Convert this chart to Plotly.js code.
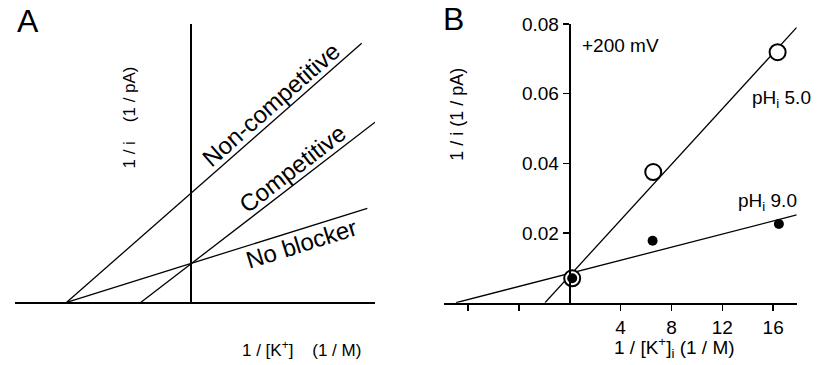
<!DOCTYPE html>
<html>
<head>
<meta charset="utf-8">
<script src="https://cdn.plot.ly/plotly-3.0.1.min.js"></script>
<style>html,body{margin:0;padding:0;background:#fff;}#chart{width:826px;height:365px;}</style>
</head>
<body>
<div id="chart"></div>
<script>
// Panel A: schematic Lineweaver-Burk lines (arbitrary units, no ticks)
var aNonCompX = [-12.4, 17.1];
var aNonCompY = [0, 25.9];
var aCompX = [-4.97, 18.43];
var aCompY = [0, 18.0];
var aNoBlockX = [-12.4, 17.66];
var aNoBlockY = [0, 9.4];

// Panel B: measured data, 1/[K+]i (1/M) vs 1/i (1/pA)
var bPh5X = [0.2, 6.57, 16.35];
var bPh5Y = [0.0070, 0.0375, 0.0719];
var bPh9X = [0.2, 6.52, 16.45];
var bPh9Y = [0.0070, 0.0178, 0.0226];
var bPh5FitX = [-1.94, 17.85];
var bPh5FitY = [0, 0.079];
var bPh9FitX = [-8.94, 17.85];
var bPh9FitY = [0, 0.0252];

var bXTickVals = [-8, -4, 4, 8, 12, 16];
var bXTickText = ['', '', '4', '8', '12', '16'];
var bYTickVals = [0.02, 0.04, 0.06, 0.08];
var bYTickText = ['0.02', '0.04', '0.06', '0.08'];

var W = 826, H = 365;
function px(x){ return x / W; }
function py(y){ return 1 - y / H; }
var FONT = 'Liberation Sans, Arial, sans-serif';
var lineStyle = {color: '#000', width: 1.3};
var NB = '\u00A0';

var traces = [
  {x: aNonCompX, y: aNonCompY, mode: 'lines', line: lineStyle, xaxis: 'x', yaxis: 'y', hoverinfo: 'skip'},
  {x: aCompX, y: aCompY, mode: 'lines', line: lineStyle, xaxis: 'x', yaxis: 'y', hoverinfo: 'skip'},
  {x: aNoBlockX, y: aNoBlockY, mode: 'lines', line: lineStyle, xaxis: 'x', yaxis: 'y', hoverinfo: 'skip'},
  {x: bPh5FitX, y: bPh5FitY, mode: 'lines', line: lineStyle, xaxis: 'x2', yaxis: 'y2', hoverinfo: 'skip'},
  {x: bPh9FitX, y: bPh9FitY, mode: 'lines', line: lineStyle, xaxis: 'x2', yaxis: 'y2', hoverinfo: 'skip'},
  {x: bPh5X, y: bPh5Y, mode: 'markers', xaxis: 'x2', yaxis: 'y2', cliponaxis: false,
   marker: {symbol: 'circle', size: 16, color: '#fff', line: {color: '#000', width: 2}}},
  {x: bPh9X, y: bPh9Y, mode: 'markers', xaxis: 'x2', yaxis: 'y2', cliponaxis: false,
   marker: {symbol: 'circle', size: 10, color: '#000', line: {width: 0}}}
];

function ann(text, x, y, size, angle){
  return {text: text, xref: 'paper', yref: 'paper', x: px(x), y: py(y),
    xanchor: 'center', yanchor: 'middle', showarrow: false, textangle: angle || 0,
    font: {family: FONT, size: size, color: '#000'}};
}

var layout = {
  width: W, height: H,
  margin: {l: 0, r: 0, t: 0, b: 0},
  paper_bgcolor: '#fff', plot_bgcolor: 'rgba(0,0,0,0)',
  showlegend: false,
  font: {family: FONT, color: '#000', size: 19},
  xaxis: {domain: [px(15), px(375)], range: [-17.57, 18.43], anchor: 'y',
    showline: true, linewidth: 2, linecolor: '#000', mirror: false,
    zeroline: true, zerolinewidth: 2, zerolinecolor: '#000',
    showgrid: false, showticklabels: false, ticks: ''},
  yaxis: {domain: [py(302.3), py(24)], range: [0, 27.83], anchor: 'x',
    showline: false, zeroline: false, showgrid: false, showticklabels: false, ticks: ''},
  xaxis2: {domain: [px(444), px(796.7)], range: [-9.88, 17.85], anchor: 'y2',
    showline: true, linewidth: 2, linecolor: '#000', zeroline: false, showgrid: false,
    ticks: 'outside', ticklen: 6, tickwidth: 1.5, tickcolor: '#000',
    tickvals: bXTickVals, ticktext: bXTickText,
    tickfont: {family: FONT, size: 19, color: '#000'}},
  yaxis2: {domain: [py(302.7), py(24)], range: [0, 0.08], anchor: 'free', position: px(569.7),
    showline: true, linewidth: 2, linecolor: '#000', zeroline: false, showgrid: false,
    ticks: 'outside', ticklen: 6, tickwidth: 1.5, tickcolor: '#000',
    tickvals: bYTickVals, ticktext: bYTickText,
    tickfont: {family: FONT, size: 19, color: '#000'}},
  annotations: [
    ann('A', 27.5, 21, 32),
    ann('B', 454, 19, 32),
    ann('1 / i' + NB + NB + NB + NB + '(1 / pA)', 129, 117.5, 17, -90),
    ann('1 / [K<sup>+</sup>]' + NB + NB + NB + NB + '(1 / M)', 301.7, 349, 17),
    ann('Non-competitive', 270.8, 104.2, 24, -41.3),
    ann('Competitive', 292.5, 168.5, 24, -37.6),
    ann('No blocker', 301.7, 243.3, 24, -17.4),
    ann('+200 mV', 620.8, 45, 19),
    ann('pH<sub>i</sub> 5.0', 781.7, 99, 19),
    ann('pH<sub>i</sub> 9.0', 767, 202, 19),
    ann('1 / i (1 / pA)', 456.7, 114, 18, -90),
    ann('1 / [K<sup>+</sup>]<sub>i</sub> (1 / M)', 674, 347, 19)
  ]
};

Plotly.newPlot('chart', traces, layout, {staticPlot: true, displayModeBar: false});
</script>
</body>
</html>
